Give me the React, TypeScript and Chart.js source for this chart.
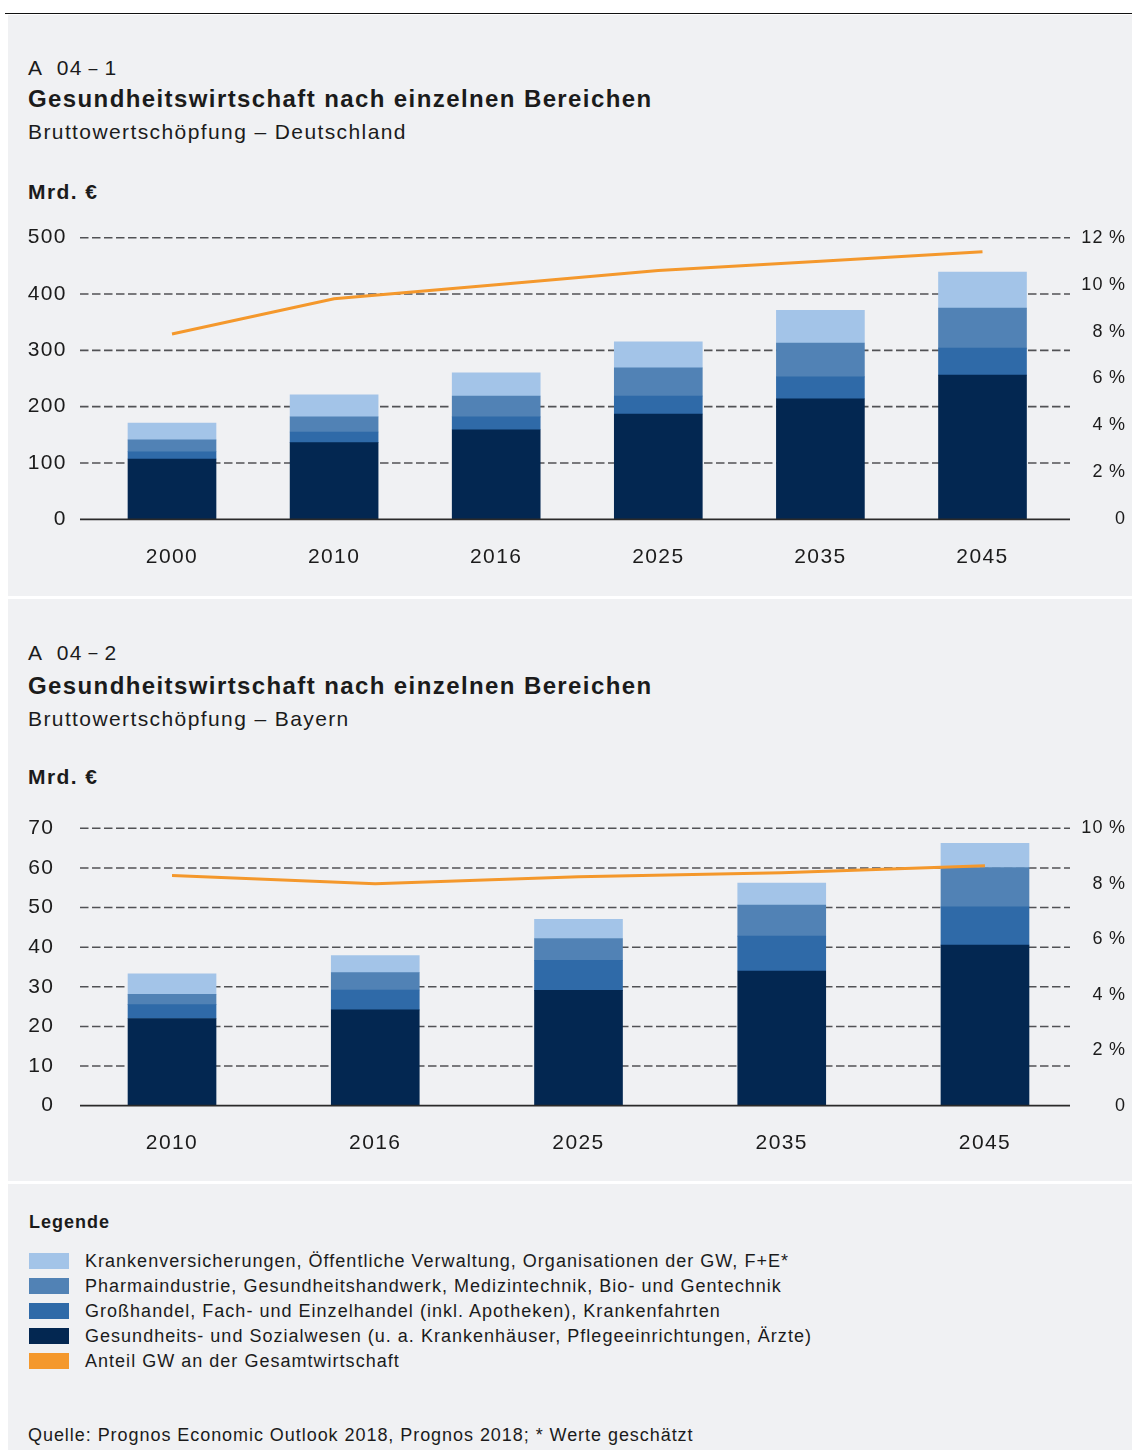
import React, { useEffect, useRef } from "react";
import { Chart, registerables } from "chart.js";

Chart.register(...registerables);

// ---------- data ----------
const YEARS_DE = ["2000", "2010", "2016", "2025", "2035", "2045"];
const DE_SOZIAL = [107, 136, 159, 187, 214, 256];
const DE_HANDEL = [13, 19, 23, 32, 39, 48];
const DE_PHARMA = [21, 27, 37, 50, 60, 71];
const DE_KASSEN = [30, 39, 41, 46, 58, 64];
const DE_ANTEIL = [7.9, 9.4, 10.0, 10.6, 11.0, 11.4];
const DE_LEFT_TICKS = [0, 100, 200, 300, 400, 500];
const DE_RIGHT_TICKS = [0, 2, 4, 6, 8, 10, 12];

const YEARS_BY = ["2010", "2016", "2025", "2035", "2045"];
const BY_SOZIAL = [22.0, 24.2, 29.1, 34.0, 40.5];
const BY_HANDEL = [3.5, 5.0, 7.6, 8.8, 9.7];
const BY_PHARMA = [2.6, 4.4, 5.5, 7.8, 9.9];
const BY_KASSEN = [5.2, 4.3, 4.8, 5.6, 6.1];
const BY_ANTEIL = [8.3, 8.0, 8.25, 8.4, 8.65];
const BY_LEFT_TICKS = [0, 10, 20, 30, 40, 50, 60, 70];
const BY_RIGHT_TICKS = [0, 2, 4, 6, 8, 10];

const LEGEND_LABELS = [
  "Krankenversicherungen, Öffentliche Verwaltung, Organisationen der GW, F+E*",
  "Pharmaindustrie, Gesundheitshandwerk, Medizintechnik, Bio- und Gentechnik",
  "Großhandel, Fach- und Einzelhandel (inkl. Apotheken), Krankenfahrten",
  "Gesundheits- und Sozialwesen (u. a. Krankenhäuser, Pflegeeinrichtungen, Ärzte)",
  "Anteil GW an der Gesamtwirtschaft",
];

// ---------- styles ----------
const C_DARK = "#032751";
const C_BLUE = "#2f6aa8";
const C_MID = "#5182b5";
const C_LIGHT = "#a3c4e8";
const C_ORANGE = "#f4982c";
const LEGEND_COLORS = [C_LIGHT, C_MID, C_BLUE, C_DARK, C_ORANGE];
const TEXT = "#1b1b1b";
const FONT = "'Liberation Sans', Arial, sans-serif";
const PANEL = "#f0f1f3";
const LS = 1.4;

const spacingPlugin = {
  id: "spacing",
  beforeLayout(chart: any) {
    chart.ctx.letterSpacing = `${LS}px`;
  },
  afterLayout(chart: any) {
    // widen the clip box of the right axis so its labels may reach past the plot edge
    const s = chart.scales.y1;
    if (s) s.left = Math.min(s.left, chart.chartArea.right - 40);
  },
  beforeDraw(chart: any) {
    chart.ctx.letterSpacing = `${LS}px`;
  },
};

const dashGridPlugin = {
  id: "dashGrid",
  beforeDatasetsDraw(chart: any, _a: any, opts: any) {
    const y = chart.scales.y;
    const ctx = chart.ctx;
    ctx.save();
    ctx.setLineDash([8.5, 3.5]);
    ctx.lineWidth = 1.6;
    ctx.strokeStyle = "#515255";
    y.ticks.forEach((t: any) => {
      if (t.value === 0) return;
      const py = y.getPixelForValue(t.value);
      ctx.beginPath();
      ctx.moveTo(opts.from, py);
      ctx.lineTo(opts.to, py);
      ctx.stroke();
    });
    ctx.restore();
  },
  afterDatasetsDraw(chart: any, _a: any, opts: any) {
    const y = chart.scales.y;
    const ctx = chart.ctx;
    const py = y.getPixelForValue(0);
    ctx.save();
    ctx.lineWidth = 1.8;
    ctx.strokeStyle = "#2a2a2a";
    ctx.beginPath();
    ctx.moveTo(opts.from, py);
    ctx.lineTo(opts.to, py);
    ctx.stroke();
    ctx.restore();
  },
};

type ChartSpec = {
  labels: string[];
  sozial: number[];
  handel: number[];
  pharma: number[];
  kassen: number[];
  anteil: number[];
  leftTicks: number[];
  rightTicks: number[];
  top: number;
  height: number;
  padTop: number;
  padBottom: number;
  leftWidth: number;
  leftPad: number;
  rightWidth: number;
};

const AXIS_RIGHT_EDGE = 1126.4;

function StackChart({ spec }: { spec: ChartSpec }) {
  const ref = useRef<HTMLCanvasElement | null>(null);
  useEffect(() => {
    if (!ref.current) return;
    const barDs = (label: string, data: number[], color: string) => ({
      type: "bar" as const,
      label,
      data,
      backgroundColor: color,
      borderWidth: 0,
      barThickness: 88,
      stack: "s",
      yAxisID: "y",
      order: 1,
    });
    const tickFont = { family: FONT, size: 21 };
    const chart = new Chart(ref.current, {
      type: "bar",
      data: {
        labels: spec.labels,
        datasets: [
          barDs(LEGEND_LABELS[3], spec.sozial, C_DARK),
          barDs(LEGEND_LABELS[2], spec.handel, C_BLUE),
          barDs(LEGEND_LABELS[1], spec.pharma, C_MID),
          barDs(LEGEND_LABELS[0], spec.kassen, C_LIGHT),
          {
            type: "line" as const,
            label: LEGEND_LABELS[4],
            data: spec.anteil,
            borderColor: C_ORANGE,
            borderWidth: 3,
            pointRadius: 0,
            tension: 0,
            fill: false,
            yAxisID: "y1",
            order: 0,
          },
        ] as any,
      },
      options: {
        animation: false,
        responsive: false,
        devicePixelRatio: 1,
        events: [],
        layout: {
          padding: { top: spec.padTop, bottom: spec.padBottom, left: 0, right: 1132 - AXIS_RIGHT_EDGE },
        },
        plugins: {
          legend: { display: false },
          tooltip: { enabled: false },
          dashGrid: { from: 80, to: 1070 },
        } as any,
        scales: {
          x: {
            stacked: true,
            offset: true,
            grid: { display: false, drawTicks: false },
            border: { display: false },
            ticks: { font: tickFont, color: TEXT, padding: 25, maxRotation: 0 },
            afterFit: (s: any) => {
              s.height = 60;
            },
          },
          y: {
            stacked: true,
            position: "left",
            min: spec.leftTicks[0],
            max: spec.leftTicks[spec.leftTicks.length - 1],
            grid: { display: false, drawTicks: false },
            border: { display: false },
            ticks: {
              stepSize: spec.leftTicks[1] - spec.leftTicks[0],
              font: tickFont,
              color: TEXT,
              padding: spec.leftPad,
            },
            afterFit: (s: any) => {
              s.width = spec.leftWidth;
            },
          },
          y1: {
            position: "right",
            min: spec.rightTicks[0],
            max: spec.rightTicks[spec.rightTicks.length - 1],
            grid: { display: false, drawTicks: false },
            border: { display: false },
            ticks: {
              stepSize: spec.rightTicks[1] - spec.rightTicks[0],
              font: { family: FONT, size: 18 },
              color: TEXT,
              crossAlign: "far",
              padding: 0,
              callback: (v: any) => (Number(v) === 0 ? "0" : `${v}\u2009%`),
            },
            afterFit: (s: any) => {
              s.width = spec.rightWidth;
            },
          },
        } as any,
      },
      plugins: [spacingPlugin, dashGridPlugin],
    });
    return () => chart.destroy();
  }, [spec]);
  return (
    <canvas
      ref={ref}
      width={1132}
      height={spec.height}
      style={{ position: "absolute", left: 0, top: spec.top, width: 1132, height: spec.height }}
    />
  );
}

const DE_SPEC: ChartSpec = {
  labels: YEARS_DE,
  sozial: DE_SOZIAL,
  handel: DE_HANDEL,
  pharma: DE_PHARMA,
  kassen: DE_KASSEN,
  anteil: DE_ANTEIL,
  leftTicks: DE_LEFT_TICKS,
  rightTicks: DE_RIGHT_TICKS,
  top: 200,
  height: 390,
  padTop: 37.7,
  padBottom: 10.7,
  leftWidth: 90.95,
  leftPad: 24,
  rightWidth: AXIS_RIGHT_EDGE - 1063.55,
};

const BY_SPEC: ChartSpec = {
  labels: YEARS_BY,
  sozial: BY_SOZIAL,
  handel: BY_HANDEL,
  pharma: BY_PHARMA,
  kassen: BY_KASSEN,
  anteil: BY_ANTEIL,
  leftTicks: BY_LEFT_TICKS,
  rightTicks: BY_RIGHT_TICKS,
  top: 790,
  height: 390,
  padTop: 38.3,
  padBottom: 14.3,
  leftWidth: 70.4,
  leftPad: 16,
  rightWidth: AXIS_RIGHT_EDGE - 1086.6,
};

function Txt({
  center,
  left,
  size,
  bold,
  ls,
  children,
}: {
  center: number;
  left: number;
  size: number;
  bold?: boolean;
  ls: number;
  children: React.ReactNode;
}) {
  const lh = Math.round(size * 1.2);
  return (
    <div
      style={{
        position: "absolute",
        left,
        top: center - lh / 2,
        fontFamily: FONT,
        fontSize: size,
        lineHeight: `${lh}px`,
        fontWeight: bold ? 700 : 400,
        letterSpacing: ls,
        color: TEXT,
        whiteSpace: "pre",
      }}
    >
      {children}
    </div>
  );
}

function Header({ num, region, y }: { num: string; region: string; y: number[] }) {
  return (
    <>
      <Txt center={y[0]} left={28} size={21} ls={1.4}>
        {"A  04\u2009"}
        <span style={{ fontSize: 16, position: "relative", top: -1.5 }}>–</span>
        {`\u2009 ${num}`.replace(" ", "")}
      </Txt>
      <Txt center={y[1]} left={28} size={24} bold ls={1.4}>
        Gesundheitswirtschaft nach einzelnen Bereichen
      </Txt>
      <Txt center={y[2]} left={28} size={21} ls={1.4}>
        {`Bruttowertschöpfung – ${region}`}
      </Txt>
      <Txt center={y[3]} left={28} size={21} bold ls={1.4}>
        Mrd. €
      </Txt>
    </>
  );
}

export default function App() {
  return (
    <div style={{ position: "absolute", left: 0, top: 0, width: 1132, height: 1450, background: "#ffffff", overflow: "hidden" }}>
      <div style={{ position: "absolute", left: 5, top: 13, width: 1127, height: 1, background: "#111" }} />
      <div style={{ position: "absolute", left: 8, top: 15, width: 1124, height: 581, background: PANEL }} />
      <div style={{ position: "absolute", left: 8, top: 599, width: 1124, height: 582, background: PANEL }} />
      <div style={{ position: "absolute", left: 8, top: 1184, width: 1124, height: 266, background: PANEL }} />

      <Header num="1" region="Deutschland" y={[67.5, 98, 131, 191]} />
      <Header num="2" region="Bayern" y={[652, 685, 718, 776]} />

      <StackChart spec={DE_SPEC} />
      <StackChart spec={BY_SPEC} />

      <Txt center={1222} left={29} size={18} bold ls={1}>
        Legende
      </Txt>
      {LEGEND_LABELS.map((lab, i) => (
        <React.Fragment key={lab}>
          <div
            style={{
              position: "absolute",
              left: 29,
              top: 1261 + i * 25 - 8,
              width: 40,
              height: 16,
              background: LEGEND_COLORS[i],
            }}
          />
          <Txt center={1261 + i * 25} left={85} size={18} ls={1.02}>
            {lab}
          </Txt>
        </React.Fragment>
      ))}
      <Txt center={1435} left={28} size={18} ls={0.95}>
        Quelle: Prognos Economic Outlook 2018, Prognos 2018; * Werte geschätzt
      </Txt>
    </div>
  );
}
